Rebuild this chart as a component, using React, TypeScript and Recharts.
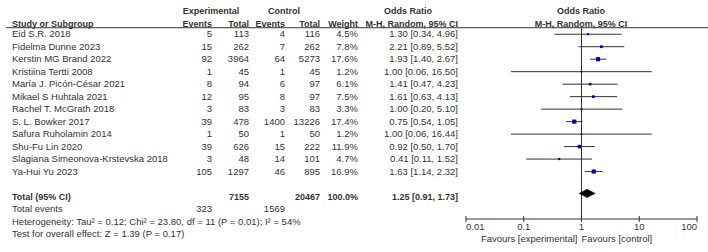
import React from 'react';
import { ComposedChart, Scatter, XAxis, YAxis, ReferenceLine } from 'recharts';

const studies = [
  'Eid S.R. 2018',
  'Fidelma Dunne 2023',
  'Kerstin MG Brand 2022',
  'Kristiina Tertti 2008',
  'María J. Picón-César 2021',
  'Mikael S Huhtala 2021',
  'Rachel T. McGrath 2018',
  'S. L. Bowker 2017',
  'Safura Ruholamin 2014',
  'Shu-Fu Lin 2020',
  'Slagiana Simeonova-Krstevska 2018',
  'Ya-Hui Yu 2023',
];
const expEvents = [5, 15, 92, 1, 8, 12, 3, 39, 1, 39, 3, 105];
const expTotal = [113, 262, 3964, 45, 94, 95, 83, 478, 50, 626, 48, 1297];
const ctrlEvents = [4, 7, 64, 1, 6, 8, 3, 1400, 1, 15, 14, 46];
const ctrlTotal = [116, 262, 5273, 45, 97, 97, 83, 13226, 50, 222, 101, 895];
const weights = [4.5, 7.8, 17.6, 1.2, 6.1, 7.5, 3.3, 17.4, 1.2, 11.9, 4.7, 16.9];
const oddsRatio = [1.3, 2.21, 1.93, 1.0, 1.41, 1.61, 1.0, 0.75, 1.0, 0.92, 0.41, 1.63];
const ciLow = [0.34, 0.89, 1.4, 0.06, 0.47, 0.63, 0.2, 0.54, 0.06, 0.5, 0.11, 1.14];
const ciHigh = [4.96, 5.52, 2.67, 16.5, 4.23, 4.13, 5.1, 1.05, 16.44, 1.7, 1.52, 2.32];

const total = { exp: 7155, ctrl: 20467, weight: 100.0, or: 1.25, lo: 0.91, hi: 1.73 };
const totalEvents = { exp: 323, ctrl: 1569 };
const footer = [
  'Heterogeneity: Tau² = 0.12; Chi² = 23.80, df = 11 (P = 0.01); I² = 54%',
  'Test for overall effect: Z = 1.39 (P = 0.17)',
];
const xTicks = [0.01, 0.1, 1, 10, 100];

const FONT = "'Liberation Sans', Arial, sans-serif";
const FS = 9.5;
const FS_BOLD = 9;
const TXT = '#333';

// row indices on the y axis
const HEAD1 = -2;
const HEAD2 = -1;
const TOTAL_ROW = 13;
const EVENTS_ROW = 14;
const FOOT_ROWS = [15, 16];

// column anchors (right-aligned numbers)
const COL = { name: 12, expEv: 212, expTot: 249, ctrlEv: 285, ctrlTot: 320, weight: 358, orText: 458, plotMid: 581 };

const f2 = (v: number) => v.toFixed(2);
const orLabel = (o: number, l: number, h: number) => `${f2(o)} [${f2(l)}, ${f2(h)}]`;

const T = ({ x, y, children, anchor = 'end', bold = false }: any) => (
  <text
    x={x}
    y={y}
    dy="0.34em"
    textAnchor={anchor}
    fontFamily={FONT}
    fontSize={bold ? FS_BOLD : FS}
    fill={TXT}
    fontWeight={bold ? 'bold' : 'normal'}
  >
    {children}
  </text>
);

const RowTick = (props: any) => {
  const { y, payload } = props;
  const r = payload.value;
  if (r === HEAD1) {
    const yy = y + 1.8;
    return (
      <g>
        <T x={211} y={yy} anchor="middle" bold>Experimental</T>
        <T x={284} y={yy} anchor="middle" bold>Control</T>
        <T x={408} y={yy} anchor="middle" bold>Odds Ratio</T>
        <T x={COL.plotMid} y={yy} anchor="middle" bold>Odds Ratio</T>
      </g>
    );
  }
  if (r === HEAD2) {
    const yy = y + 1.8;
    return (
      <g>
        <T x={COL.name} y={yy} anchor="start" bold>Study or Subgroup</T>
        <T x={COL.expEv} y={yy} bold>Events</T>
        <T x={COL.expTot} y={yy} bold>Total</T>
        <T x={COL.ctrlEv} y={yy} bold>Events</T>
        <T x={COL.ctrlTot} y={yy} bold>Total</T>
        <T x={COL.weight} y={yy} bold>Weight</T>
        <T x={COL.orText} y={yy} bold>M-H, Random, 95% CI</T>
        <T x={COL.plotMid} y={yy} anchor="middle" bold>M-H, Random, 95% CI</T>
        <line x1={6} x2={708} y1={y + 6} y2={y + 6} stroke={TXT} strokeWidth={1} />
      </g>
    );
  }
  if (r === TOTAL_ROW) {
    return (
      <g>
        <T x={COL.name} y={y} anchor="start" bold>Total (95% CI)</T>
        <T x={COL.expTot} y={y} bold>{total.exp}</T>
        <T x={COL.ctrlTot} y={y} bold>{total.ctrl}</T>
        <T x={COL.weight} y={y} bold>{total.weight.toFixed(1)}%</T>
        <T x={COL.orText} y={y} bold>{orLabel(total.or, total.lo, total.hi)}</T>
      </g>
    );
  }
  if (r === EVENTS_ROW) {
    return (
      <g>
        <T x={COL.name} y={y} anchor="start">Total events</T>
        <T x={COL.expEv} y={y}>{totalEvents.exp}</T>
        <T x={COL.ctrlEv} y={y}>{totalEvents.ctrl}</T>
      </g>
    );
  }
  const fi = FOOT_ROWS.indexOf(r);
  if (fi >= 0) {
    return <T x={COL.name} y={y} anchor="start">{footer[fi]}</T>;
  }
  const i = r;
  if (i < 0 || i >= studies.length) return <g />;
  return (
    <g>
      <T x={COL.name} y={y} anchor="start">{studies[i]}</T>
      <T x={COL.expEv} y={y}>{expEvents[i]}</T>
      <T x={COL.expTot} y={y}>{expTotal[i]}</T>
      <T x={COL.ctrlEv} y={y}>{ctrlEvents[i]}</T>
      <T x={COL.ctrlTot} y={y}>{ctrlTotal[i]}</T>
      <T x={COL.weight} y={y}>{weights[i].toFixed(1)}%</T>
      <T x={COL.orText} y={y}>{orLabel(oddsRatio[i], ciLow[i], ciHigh[i])}</T>
    </g>
  );
};

const AxisTick = (props: any) => {
  const { x, y, payload } = props;
  const v = payload.value;
  const anchor = v === xTicks[0] ? 'start' : v === xTicks[xTicks.length - 1] ? 'end' : 'middle';
  return (
    <g>
      <line x1={x} x2={x} y1={y - 3} y2={y + 3} stroke={TXT} />
      <text x={x} y={y + 8} dy="0.34em" textAnchor={anchor} fontFamily={FONT} fontSize={FS} fill={TXT}>
        {String(v)}
      </text>
      {v === 1 && (
        <>
          <text x={x - 4} y={y + 20} dy="0.34em" textAnchor="end" fontFamily={FONT} fontSize={FS} fill={TXT}>
            Favours [experimental]
          </text>
          <text x={x} y={y + 20} dy="0.34em" textAnchor="start" fontFamily={FONT} fontSize={FS} fill={TXT}>
            Favours [control]
          </text>
        </>
      )}
    </g>
  );
};

const Square = (props: any) => {
  const { cx, cy, payload } = props;
  const s = Math.max(1.6, Math.sqrt(payload.w));
  return <rect x={cx - s / 2} y={cy - s / 2} width={s} height={s} fill="#0000cc" />;
};

const Diamond = (props: any) => {
  const pts = (props.points || []).map((p: any) => `${p.x},${p.y}`).join(' ');
  return <polygon points={pts} fill="#000" stroke="#000" strokeWidth={0.5} />;
};

export default function App() {
  const points = studies.map((s, i) => ({ x: oddsRatio[i], y: i, w: weights[i], name: s }));
  const dy = 0.33; // diamond half-height in row units
  const dRow = TOTAL_ROW - 0.25;
  const diamond = [
    { x: total.lo, y: dRow },
    { x: total.or, y: dRow - dy },
    { x: total.hi, y: dRow },
    { x: total.or, y: dRow + dy },
  ];
  const yTicks = [HEAD1, HEAD2, ...studies.map((_, i) => i), TOTAL_ROW, EVENTS_ROW, ...FOOT_ROWS];

  return (
    <div style={{ position: 'absolute', left: 0, top: 0, width: 708, height: 252, background: '#fff' }}>
      <ComposedChart width={708} height={252} margin={{ top: 8, right: 11, bottom: 3, left: 465 }}>
        <XAxis
          type="number"
          dataKey="x"
          scale="log"
          domain={[0.01, 100]}
          ticks={xTicks}
          allowDataOverflow
          axisLine={{ stroke: TXT }}
          tickLine={false}
          tickSize={0}
          tickMargin={0}
          height={30}
          interval={0}
          tick={<AxisTick />}
        />
        <YAxis
          type="number"
          dataKey="y"
          domain={[-2.1, 14.8]}
          reversed
          allowDataOverflow
          ticks={yTicks}
          interval={0}
          width={1}
          axisLine={false}
          tickLine={false}
          tick={<RowTick />}
        />
        <ReferenceLine segment={[{ x: 1, y: -0.53 }, { x: 1, y: 14.8 }]} stroke={TXT} ifOverflow="visible" />
        {studies.map((s, i) => (
          <ReferenceLine
            key={s}
            segment={[{ x: ciLow[i], y: i }, { x: ciHigh[i], y: i }]}
            stroke={TXT}
            ifOverflow="visible"
          />
        ))}
        <Scatter data={points} shape={<Square />} isAnimationActive={false} />
        <Scatter
          data={diamond}
          shape={() => <g />}
          line={Diamond}
          lineType="joint"
          isAnimationActive={false}
        />
      </ComposedChart>
    </div>
  );
}
